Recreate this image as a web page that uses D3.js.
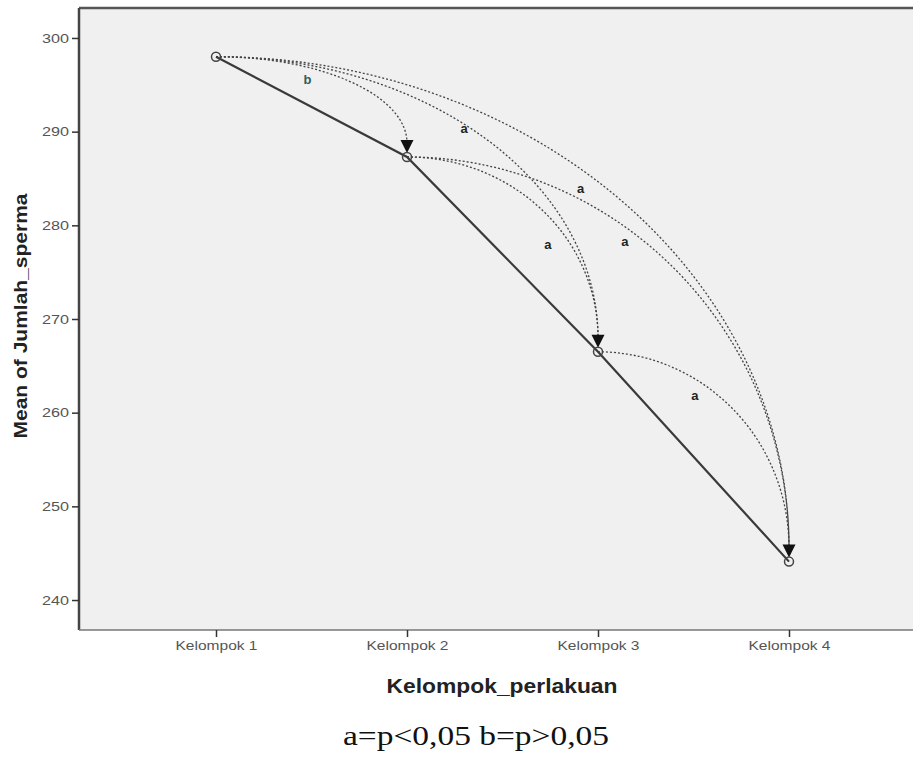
<!DOCTYPE html>
<html>
<head>
<meta charset="utf-8">
<script src="https://cdn.jsdelivr.net/npm/d3@7"></script>
<style>
  body { margin: 0; background: #fff; }
  svg { display: block; }
</style>
</head>
<body>
<script>
// data
var groups = ["Kelompok 1", "Kelompok 2", "Kelompok 3", "Kelompok 4"];
var means = [298.0, 287.3, 266.5, 244.1];
var yTicks = [240, 250, 260, 270, 280, 290, 300];
// pairwise comparisons: from group, to group, label
var pairFrom = [0, 0, 0, 1, 1, 2];
var pairTo = [1, 2, 3, 2, 3, 3];
var pairLabel = ["b", "a", "a", "a", "a", "a"];

var width = 913, height = 764;
var plotLeft = 79, plotTop = 8, plotRight = 918, plotBottom = 630;
var arrowGap = 14;
// where each label sits along its arc (degrees from horizontal, share of radius)
var labelAngle = [57, 49, 49, 35, 54, 57];
var labelRadius = [0.88, 0.99, 0.97, 0.9, 0.97, 0.93];

var svg = d3.select("body").append("svg")
    .attr("width", width)
    .attr("height", height);

var x = d3.scalePoint()
    .domain(groups)
    .range([216, 789]);

var y = d3.scaleLinear()
    .domain([236.8, 303.2])
    .range([plotBottom, plotTop]);

// plot area
svg.append("rect")
    .attr("x", plotLeft).attr("y", plotTop)
    .attr("width", plotRight - plotLeft).attr("height", plotBottom - plotTop)
    .attr("fill", "#f0f0f0");

svg.append("line")
    .attr("x1", plotLeft).attr("x2", plotRight)
    .attr("y1", plotTop).attr("y2", plotTop)
    .attr("stroke", "#555").attr("stroke-width", 2.5);

// axes
var yAxis = svg.append("g")
    .attr("transform", "translate(" + plotLeft + ",0)")
    .call(d3.axisLeft(y).tickValues(yTicks).tickSize(7).tickPadding(3).tickSizeOuter(0));
yAxis.select(".domain").attr("stroke", "#444").attr("stroke-width", 2.5)
    .attr("d", "M0," + plotTop + "V" + plotBottom);
yAxis.selectAll(".tick line").attr("stroke", "#333").attr("stroke-width", 1.5);
yAxis.selectAll("text")
    .attr("font-family", "Liberation Sans, Arial, sans-serif")
    .attr("font-size", 13).attr("fill", "#555")
    .attr("textLength", 27).attr("lengthAdjust", "spacingAndGlyphs");

var xAxis = svg.append("g")
    .attr("transform", "translate(0," + plotBottom + ")")
    .call(d3.axisBottom(x).tickSize(7).tickPadding(4).tickSizeOuter(0));
xAxis.select(".domain").attr("stroke", "#777").attr("stroke-width", 1.5)
    .attr("d", "M" + plotLeft + ",0H" + plotRight);
xAxis.selectAll(".tick line").attr("stroke", "#333").attr("stroke-width", 1.5);
xAxis.selectAll("text")
    .attr("font-family", "Liberation Sans, Arial, sans-serif")
    .attr("font-size", 13).attr("fill", "#555")
    .attr("textLength", 82).attr("lengthAdjust", "spacingAndGlyphs");

// axis titles
svg.append("text")
    .attr("transform", "translate(27,316) rotate(-90)")
    .attr("text-anchor", "middle")
    .attr("font-family", "Liberation Sans, Arial, sans-serif")
    .attr("font-weight", "bold").attr("font-size", 19).attr("fill", "#222")
    .attr("textLength", 245).attr("lengthAdjust", "spacingAndGlyphs")
    .text("Mean of Jumlah_sperma");

svg.append("text")
    .attr("x", 502).attr("y", 693)
    .attr("text-anchor", "middle")
    .attr("font-family", "Liberation Sans, Arial, sans-serif")
    .attr("font-weight", "bold").attr("font-size", 20).attr("fill", "#222")
    .attr("textLength", 231).attr("lengthAdjust", "spacingAndGlyphs")
    .text("Kelompok_perlakuan");

svg.append("text")
    .attr("x", 476).attr("y", 745)
    .attr("text-anchor", "middle")
    .attr("font-family", "Liberation Serif, Times New Roman, serif")
    .attr("font-size", 27).attr("fill", "#111")
    .attr("textLength", 266).attr("lengthAdjust", "spacingAndGlyphs")
    .text("a=p<0,05 b=p>0,05");

var pts = groups.map(function(g, i){
    return {x: x(g), y: y(means[i])};
});

// pairwise arcs: quarter ellipse, horizontal at source, vertical at target arrow
var pairs = pairFrom.map(function(f, i){
    return {s: pts[f], t: pts[pairTo[i]], label: pairLabel[i],
            angle: labelAngle[i], radius: labelRadius[i]};
});

var arcPoint = function(d){
    var rx = d.t.x - d.s.x, ry = d.t.y - arrowGap - d.s.y;
    var theta = d.angle * Math.PI / 180;
    return {x: d.s.x + d.radius * rx * Math.cos(theta),
            y: d.t.y - arrowGap - d.radius * ry * Math.sin(theta)};
}

svg.append("g").selectAll("path")
    .data(pairs).enter().append("path")
    .attr("d", function(d){
        var rx = d.t.x - d.s.x, ry = d.t.y - arrowGap - d.s.y;
        return "M" + d.s.x + "," + d.s.y + " A" + rx + "," + ry + " 0 0 1 " + d.t.x + "," + (d.t.y - arrowGap);
    })
    .attr("fill", "none")
    .attr("stroke", "#444")
    .attr("stroke-width", 1.3)
    .attr("stroke-dasharray", "2,2");

svg.append("g").selectAll("text")
    .data(pairs).enter().append("text")
    .attr("x", function(d){ return arcPoint(d).x; })
    .attr("y", function(d){ return arcPoint(d).y + 5; })
    .attr("text-anchor", "middle")
    .attr("font-family", "Liberation Sans, Arial, sans-serif")
    .attr("font-weight", "bold")
    .attr("font-size", 13)
    .attr("fill", function(d){ return d.label == "b" ? "#2f5f5a" : "#222"; })
    .text(function(d){ return d.label; });

// mean line
svg.append("path")
    .datum(pts)
    .attr("d", d3.line().x(function(d){ return d.x; }).y(function(d){ return d.y; }))
    .attr("fill", "none")
    .attr("stroke", "#3a3a3a")
    .attr("stroke-width", 2.2);

// arrow heads at the target groups
var targets = pts.slice(1);
svg.append("g").selectAll("path")
    .data(targets).enter().append("path")
    .attr("d", function(d){
        return "M" + (d.x - 6.5) + "," + (d.y - 17) + "L" + (d.x + 6.5) + "," + (d.y - 17) + "L" + d.x + "," + (d.y - 4) + "Z";
    })
    .attr("fill", "#111");

svg.append("g").selectAll("circle")
    .data(pts).enter().append("circle")
    .attr("cx", function(d){ return d.x; })
    .attr("cy", function(d){ return d.y; })
    .attr("r", 4.5)
    .attr("fill", "none")
    .attr("stroke", "#444")
    .attr("stroke-width", 1.5);
</script>
</body>
</html>
